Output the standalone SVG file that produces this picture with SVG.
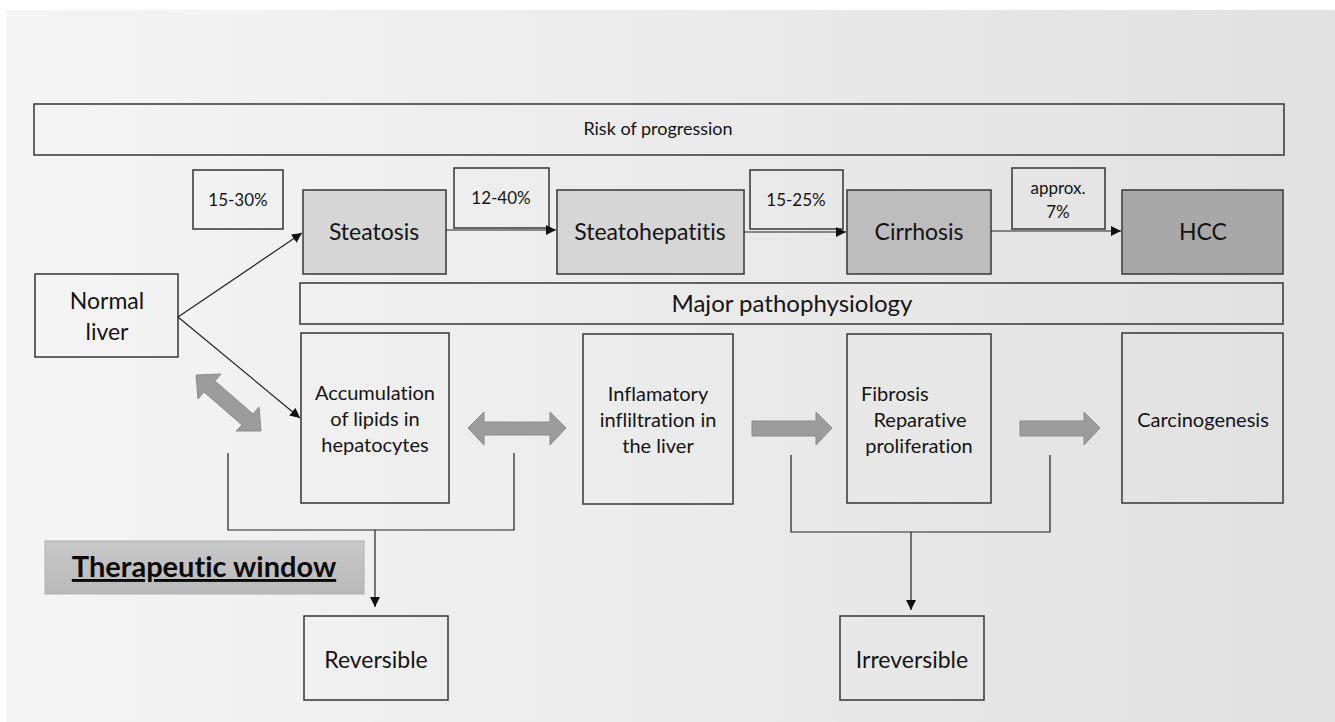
<svg xmlns="http://www.w3.org/2000/svg" width="1335" height="722" viewBox="0 0 1335 722">
<defs>
<linearGradient id="bg" x1="0" y1="0" x2="1" y2="0">
<stop offset="0" stop-color="#f5f5f5"/>
<stop offset="1" stop-color="#e1e1e1"/>
</linearGradient>
<linearGradient id="tw" x1="0" y1="0" x2="0" y2="1">
<stop offset="0" stop-color="#c9c9c9"/>
<stop offset="1" stop-color="#b9b9b9"/>
</linearGradient>
<marker id="ah" viewBox="0 0 10 10" refX="10" refY="5" markerWidth="10" markerHeight="10" markerUnits="userSpaceOnUse" orient="auto">
<path d="M0,0 L10,5 L0,10 z" fill="#111"/>
</marker>
<style>
.b{fill:none;stroke:#404040;stroke-width:1.6}
.t{font-family:Lato,"Open Sans",sans-serif;fill:#141414;text-anchor:middle;font-variant-ligatures:none;font-feature-settings:"liga" 0,"dlig" 0}
.c{stroke:#222;stroke-width:1.2;fill:none}
.ba{fill:#9c9c9c;stroke:#8a8a8a;stroke-width:1}
</style>
</defs>
<rect x="6" y="10" width="1329" height="712" fill="url(#bg)"/>

<g id="risk"><rect class="b" x="34" y="104" width="1250" height="51"/><text class="t" x="658" y="135" font-size="18">Risk of progression</text></g>
<g id="p1"><rect class="b" x="193" y="170" width="90" height="59"/><text class="t" x="238" y="206" font-size="17">15-30%</text></g>
<g id="steatosis"><rect class="b" x="303" y="190" width="143" height="84" style="fill:#d6d6d6"/><text class="t" x="374" y="240" font-size="23">Steatosis</text></g>
<g id="p2"><rect class="b" x="454" y="168" width="95" height="60"/><text class="t" x="501" y="204" font-size="17">12-40%</text></g>
<g id="steatohepatitis"><rect class="b" x="557" y="190" width="187" height="84" style="fill:#d6d6d6"/><text class="t" x="650" y="240" font-size="23">Steatohepatitis</text></g>
<g id="p3"><rect class="b" x="750" y="170" width="93" height="59"/><text class="t" x="796" y="206" font-size="17">15-25%</text></g>
<g id="cirrhosis"><rect class="b" x="847" y="190" width="144" height="84" style="fill:#bdbdbd"/><text class="t" x="919" y="240" font-size="23">Cirrhosis</text></g>
<g id="p4"><rect class="b" x="1012" y="168" width="93" height="61"/><text class="t" x="1058" y="194" font-size="17">approx.</text><text class="t" x="1058" y="218" font-size="17">7%</text></g>
<g id="hcc"><rect class="b" x="1122" y="190" width="161" height="84" style="fill:#a8a8a8"/><text class="t" x="1203" y="240" font-size="23">HCC</text></g>
<g id="major"><rect class="b" x="300" y="283" width="983" height="41"/><text class="t" x="792" y="312" font-size="24">Major pathophysiology</text></g>
<g id="normal"><rect class="b" x="35" y="274" width="143" height="83"/><text class="t" x="107" y="309" font-size="23">Normal</text><text class="t" x="107" y="340" font-size="23">liver</text></g>
<g id="accum"><rect class="b" x="301" y="333" width="148" height="170"/><text class="t" x="375" y="400" font-size="20">Accumulation</text><text class="t" x="375" y="426" font-size="20">of lipids in</text><text class="t" x="375" y="452" font-size="20">hepatocytes</text></g>
<g id="inflam"><rect class="b" x="583" y="334" width="150" height="170"/><text class="t" x="658" y="401" font-size="20">Inflamatory</text><text class="t" x="658" y="427" font-size="20">infliltration in</text><text class="t" x="658" y="453" font-size="20">the liver</text></g>
<g id="fibrosis"><rect class="b" x="847" y="334" width="144" height="169"/><text class="t" x="861" y="401" font-size="20" style="text-anchor:start">Fibrosis</text><text class="t" x="920" y="427" font-size="20">Reparative</text><text class="t" x="919" y="453" font-size="20">proliferation</text></g>
<g id="carcino"><rect class="b" x="1122" y="333" width="161" height="170"/><text class="t" x="1203" y="427" font-size="20">Carcinogenesis</text></g>
<g id="reversible"><rect class="b" x="304" y="616" width="144" height="84"/><text class="t" x="376" y="668" font-size="23">Reversible</text></g>
<g id="irreversible"><rect class="b" x="840" y="616" width="144" height="84"/><text class="t" x="912" y="668" font-size="23">Irreversible</text></g>
<g id="therapeutic"><rect x="45" y="541" width="319" height="53" fill="url(#tw)" stroke="#b0b0b0" stroke-width="1"/><text class="t" x="204" y="577" font-size="29" font-weight="bold" text-decoration="underline" style="fill:#0a0a0a">Therapeutic window</text></g>

<g id="connectors">
<line class="c" x1="178" y1="317" x2="302" y2="233" marker-end="url(#ah)"/>
<line class="c" x1="178" y1="317" x2="300" y2="418" marker-end="url(#ah)"/>
<line class="c" x1="446" y1="230" x2="556" y2="230" marker-end="url(#ah)"/>
<line class="c" x1="744" y1="232" x2="846" y2="232" marker-end="url(#ah)"/>
<line class="c" x1="991" y1="231" x2="1121" y2="231" marker-end="url(#ah)"/>
<polyline class="c" points="228,453 228,530 514,530 514,453"/>
<line class="c" x1="375" y1="530" x2="375" y2="607" marker-end="url(#ah)"/>
<polyline class="c" points="791,455 791,532 1050,532 1050,455"/>
<line class="c" x1="911" y1="532" x2="911" y2="610" marker-end="url(#ah)"/>
<polygon class="ba" points="196,375 221,374 215,381 253,414 259,407 261,431 236,431 242,425 204,392 198,399"/>
<polygon class="ba" points="468,428 484,412 484,422 550,422 550,412 566,428 550,445 550,435 484,435 484,445"/>
<polygon class="ba" points="752,421 816,421 816,412 832,428 816,445 816,436 752,436"/>
<polygon class="ba" points="1020,421 1084,421 1084,412 1100,428 1084,445 1084,436 1020,436"/>
</g>
</svg>
